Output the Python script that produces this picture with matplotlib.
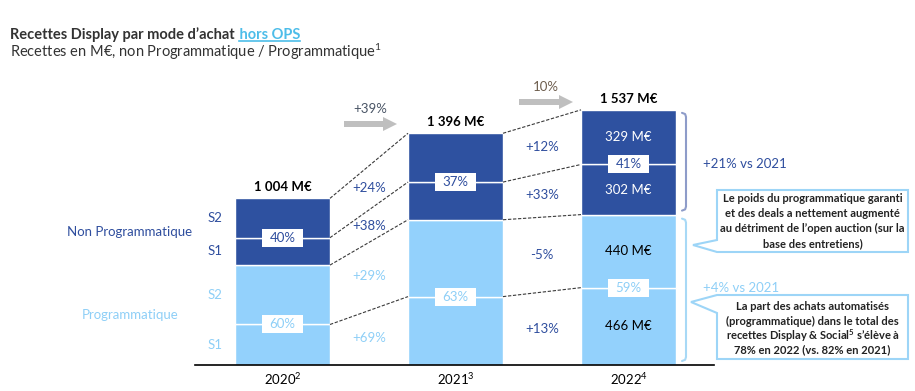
import matplotlib
matplotlib.use("Agg")
import matplotlib.pyplot as plt
from matplotlib.transforms import Affine2D
from matplotlib.patches import Polygon, Rectangle
import numpy as np

plt.rcParams['font.family'] = ['Lato', 'DejaVu Sans']
plt.rcParams['mathtext.fontset'] = 'custom'
plt.rcParams['mathtext.rm'] = 'Lato'
plt.rcParams['mathtext.bf'] = 'Lato:bold'
plt.rcParams['mathtext.default'] = 'rm'

# data (M€)
years = ['2020', '2021', '2022']
year_labels = ['2020$^{2}$', '2021$^{3}$', '2022$^{4}$']
prog_s1 = [244, 412, 466]
prog_s2 = [358, 463, 440]
nonprog_s1 = [165, 227, 302]
nonprog_s2 = [237, 294, 329]
total_labels = ['1 004 M€', '1 396 M€', '1 537 M€']
nonprog_share = ['40%', '37%', '41%']
prog_share = ['60%', '63%', '59%']
# growth per segment, order: NP S2, NP S1, P S2, P S1
growth_2021 = ['+24%', '+38%', '+29%', '+69%']
growth_2022 = ['+12%', '+33%', '-5%', '+13%']
total_growth = ['+39%', '10%']
value_labels_2022 = ['329 M€', '302 M€', '440 M€', '466 M€']

DARK = '#2E51A0'
LIGHT = '#93D1FC'
DARK_TXT = '#2F4E9E'
LIGHT_TXT = '#8ECFF7'
W, H = 915, 391

fig = plt.figure(figsize=(W / 100, H / 100), dpi=100)
pix = Affine2D().scale(1 / W, -1 / H).translate(0, 1) + fig.transFigure

# main axes: baseline at y=365px, bar centres at 282.5 / 455.5 / 628
x0_px, x1_px = 195, 714
step = 173.0
ax = fig.add_axes([x0_px / W, (H - 365) / H, (x1_px - x0_px) / W, 1700 * 0.166 / H])
ax.set_xlim((x0_px - 282.5) / step, (x1_px - 282.5) / step)
ax.set_ylim(0, 1700)
for s in ['top', 'right', 'left']:
    ax.spines[s].set_visible(False)
ax.spines['bottom'].set_color('black')
ax.spines['bottom'].set_linewidth(1.2)
ax.set_xticks([])
ax.set_yticks([])
ax.patch.set_alpha(0)

x = np.arange(len(years))
bw = 95 / step
p1 = np.array(prog_s1)
p2 = np.array(prog_s2)
n1 = np.array(nonprog_s1)
n2 = np.array(nonprog_s2)
segs = [p1, p2, n1, n2]
cols = [LIGHT, LIGHT, DARK, DARK]
bottom = np.zeros(3)
bottoms = []
for v, c in zip(segs, cols):
    ax.bar(x, v, bw, bottom=bottom, color=c, edgecolor='white', linewidth=1)
    bottoms.append(bottom.copy())
    bottom = bottom + v
top = bottom
# segment midpoints in order NP S2, NP S1, P S2, P S1
mids = [bottoms[3] + n2 / 2, bottoms[2] + n1 / 2, bottoms[1] + p2 / 2, p1 / 2]

# dashed connectors between bars
levels = [top, bottoms[3], bottoms[2], bottoms[1]]
for i in range(2):
    for lv in levels:
        ax.plot([x[i] + bw / 2, x[i + 1] - bw / 2], [lv[i], lv[i + 1]],
                color='#3a3a3a', lw=0.8, ls=(0, (3, 1.5)), clip_on=False)

# growth labels between bars
for i, labels in enumerate([growth_2021, growth_2022]):
    for k, lab in enumerate(labels):
        yv = (mids[k][i] + mids[k][i + 1]) / 2
        c = DARK_TXT if (k < 2 or i == 1) else LIGHT_TXT
        ax.text(x[i] + 0.5, yv, lab, ha='center', va='center', fontsize=9.5, color=c)

# share boxes
bx_w, bx_h = 41 / step, 18 / 0.166
for i in range(3):
    for yv, lab, c in [(bottoms[3][i], nonprog_share[i], DARK_TXT),
                       (bottoms[1][i], prog_share[i], LIGHT_TXT)]:
        ax.add_patch(Rectangle((x[i] - bx_w / 2, yv - bx_h / 2), bx_w, bx_h,
                               facecolor='white', edgecolor='none', zorder=3))
        ax.text(x[i], yv, lab, ha='center', va='center', fontsize=9.5, color=c, zorder=4)

# totals on top, years below
for i in range(3):
    ax.annotate(total_labels[i], (x[i], top[i]), xytext=(0, 8), textcoords='offset points',
                ha='center', va='center', fontsize=9.5, fontweight='bold', color='black')
    ax.annotate(year_labels[i], (x[i], 0), xytext=(0, -10), textcoords='offset points',
                ha='center', va='center', fontsize=9.5, color='black')

# values inside 2022 bar
for k, lab in enumerate(value_labels_2022):
    ax.text(x[2], mids[k][2], lab, ha='center', va='center', fontsize=9.5,
            color='white' if k < 2 else 'black')

# left labels
for k, lab in enumerate(['S2', 'S1', 'S2', 'S1']):
    ax.text((215 - 282.5) / step, mids[k][0], lab, ha='center', va='center', fontsize=9.5,
            color=DARK_TXT if k < 2 else LIGHT_TXT)
ax.text((130 - 282.5) / step, (bottoms[2][0] + top[0]) / 2, 'Non Programmatique',
        ha='center', va='center', fontsize=9.5, color=DARK_TXT, clip_on=False)
ax.text((130 - 282.5) / step, bottoms[2][0] / 2, 'Programmatique',
        ha='center', va='center', fontsize=9.5, color=LIGHT_TXT, clip_on=False)

# braces on the right of 2022
bxv, bxh = (686 - 282.5) / step, (682 - 282.5) / step
r = 4 / 0.166
for y_top, y_bot, c in [(top[2] - 3 / 0.166, bottoms[2][2] + 4 / 0.166, '#8E9CC9'),
                        (bottoms[2][2] - 4 / 0.166, 4 / 0.166, '#A8D9F6')]:
    ax.plot([bxh, bxv - 0.005, bxv, bxv, bxv - 0.005, bxh],
            [y_top, y_top - r * 0.3, y_top - r, y_bot + r, y_bot + r * 0.3, y_bot],
            color=c, lw=1.5, clip_on=False, solid_capstyle='round')
ax.text((703 - 282.5) / step, bottoms[3][2], '+21% vs 2021', ha='left', va='center',
        fontsize=9.5, color=DARK_TXT, clip_on=False)
ax.text((703 - 282.5) / step, bottoms[1][2], '+4% vs 2021', ha='left', va='center',
        fontsize=9.5, color=LIGHT_TXT, clip_on=False)

# total growth arrows
for (xs, xh, xt, yc), lab, tc in zip([(344, 383, 397, 124), (519, 559, 573, 102)],
                                     total_growth, ['#4A5566', '#6E5E4E']):
    pts = [(xs, yc - 3), (xh, yc - 3), (xh, yc - 7), (xt, yc), (xh, yc + 7), (xh, yc + 3), (xs, yc + 3)]
    fig.patches.append(Polygon(pts, closed=True, transform=pix, facecolor='#BFBFBF', edgecolor='none'))
    fig.text((xs + xt) / 2 / W, 1 - (yc - 15) / H, lab, ha='center', va='center',
             fontsize=9.5, color=tc)

# callouts
box1 = [(717, 190), (908, 190), (908, 252), (717, 252), (693, 245), (717, 240)]
box2 = [(717, 295), (908, 295), (908, 359), (717, 359), (717, 313), (691, 302)]
txt1 = ['Le poids du programmatique garanti', 'et des deals a nettement augmenté',
        'au détriment de l’open auction (sur la', 'base des entretiens)']
txt2 = ['La part des achats automatisés', '(programmatique) dans le total des',
        'recettes Display & Social$^{\\mathbf{5}}$ s’élève à', '78% en 2022 (vs. 82% en 2021)']
for pts, lines, ys in [(box1, txt1, [199, 213.5, 228.5, 243.5]), (box2, txt2, [307, 321, 336, 350])]:
    fig.patches.append(Polygon(pts, closed=True, transform=pix, facecolor='white',
                               edgecolor='#9DD5F7', lw=1.5))
    for ln, yy in zip(lines, ys):
        fig.text(812.5 / W, 1 - yy / H, ln, ha='center', va='center', fontsize=8,
                 fontweight='bold', color='#222222')

# title
t1 = fig.text(10 / W, 1 - 35 / H, 'Recettes Display par mode d’achat', ha='left', va='center',
              fontsize=10.5, fontweight='bold', color='#333333')
fig.canvas.draw()
bb = t1.get_window_extent()
t2 = fig.text((bb.x1 + 1) / W, 1 - 35 / H, ' hors OPS', ha='left', va='center',
              fontsize=10.5, fontweight='bold', color='#4DBDE9')
fig.canvas.draw()
bb2 = t2.get_window_extent()
fig.lines.append(plt.Line2D([(bb2.x0 + 3) / W, bb2.x1 / W], [(bb2.y0 + 1) / H] * 2,
                            transform=fig.transFigure, color='#4DBDE9', lw=1.2))
fig.text(10 / W, 1 - 52 / H, 'Recettes en M€, non Programmatique / Programmatique$^{1}$',
         ha='left', va='center', fontsize=10.5, color='#333333')

fig.savefig('out.png', dpi=100)
